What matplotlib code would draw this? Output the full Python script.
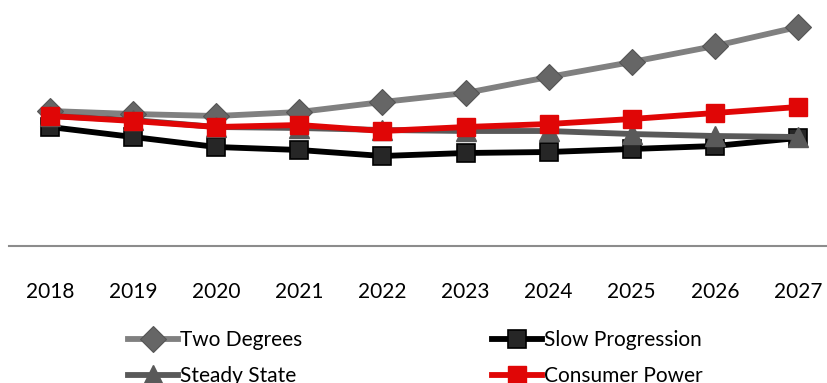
import matplotlib.pyplot as plt
import numpy as np

years = ['2018', '2019', '2020', '2021', '2022', '2023', '2024', '2025', '2026', '2027']
two_degrees = [135, 132, 130, 134, 144, 153, 169, 184, 200, 219]
slow_progression = [119, 109, 99, 96, 90, 93, 94, 97, 100, 108]
steady_state = [130, 126, 119, 118, 116, 115, 115, 112, 110, 109]
consumer_power = [130, 125, 119, 121, 115, 119, 122, 127, 133, 139]

plt.rcParams['font.family'] = ['Lato', 'DejaVu Sans']

fig = plt.figure(figsize=(8.27, 3.83), dpi=100)
ax = fig.add_axes([8.5 / 827, 137 / 383, 831 / 827, 246 / 383])
x = np.arange(len(years))

l1, = ax.plot(x, two_degrees, color='#808080', lw=4.2, marker='D', ms=13.5,
              mfc='#666666', mec='#555555', mew=0.8, label='Two Degrees', zorder=2)
l2, = ax.plot(x, slow_progression, color='black', lw=4.2, marker='s', ms=12.5,
              mfc='#262626', mec='black', mew=1.2, label='Slow Progression', zorder=3)
l3, = ax.plot(x, steady_state, color='#595959', lw=4.2, marker='^', ms=14,
              mfc='#595959', mec='#595959', label='Steady State', zorder=4)
l4, = ax.plot(x, consumer_power, color='#e00606', lw=4.2, marker='s', ms=13,
              mfc='#e00606', mec='#e00606', label='Consumer Power', zorder=5)

ax.set_xlim(-0.5, len(years) - 0.5)
ax.set_ylim(0, 246)
ax.set_xticks(x)
ax.set_xticklabels(years, fontsize=15)
ax.tick_params(axis='x', length=0, pad=26)
ax.set_yticks([])
for side in ['top', 'left', 'right']:
    ax.spines[side].set_visible(False)
ax.spines['bottom'].set_color('#8c8c8c')
ax.spines['bottom'].set_linewidth(1.5)

# legend fills column by column, so order handles to read row by row
fig.legend([l1, l3, l2, l4], [l.get_label() for l in (l1, l3, l2, l4)],
           loc='upper left', bbox_to_anchor=(118 / 827, 1 - 320 / 383), ncol=2,
           frameon=False, fontsize=15, handlelength=2.4, handletextpad=0.1,
           columnspacing=9.1, labelspacing=0.75, borderpad=0)

fig.savefig('out.png', dpi=100)
